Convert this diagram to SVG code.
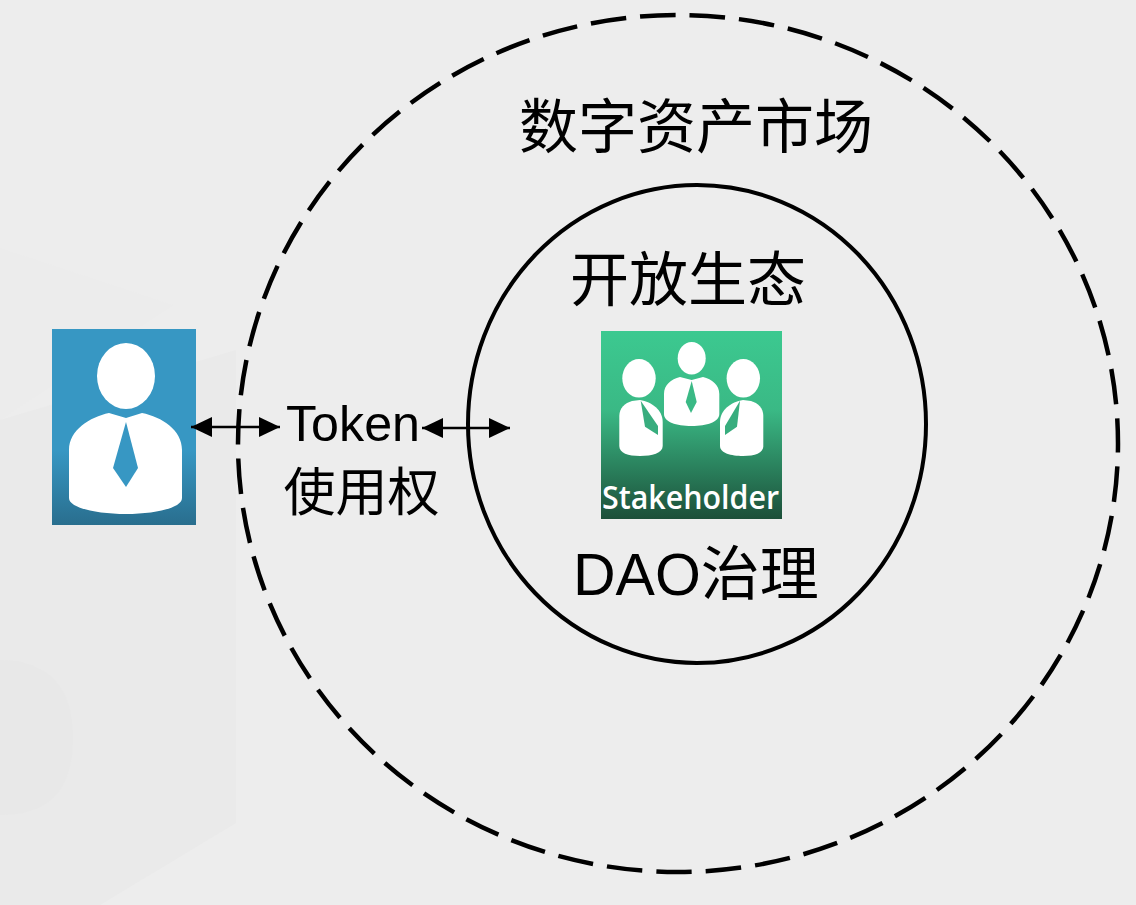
<svg xmlns="http://www.w3.org/2000/svg" width="1136" height="905" viewBox="0 0 1136 905">
<style>
.cjk{font-family:"Liberation Sans","Noto Sans CJK SC",sans-serif;fill:#000;font-size:59px}
.ring{fill:none;stroke:#000}
.conn{stroke:#000;stroke-width:2.5;fill:none;marker-start:url(#head);marker-end:url(#head)}
</style>
<defs>
<marker id="head" viewBox="0 0 21 20" refX="21" refY="10" markerWidth="21" markerHeight="20" markerUnits="userSpaceOnUse" orient="auto-start-reverse"><path d="M0 0L21 10L0 20Z" fill="#000"/></marker>
<linearGradient id="blue" x1="0" y1="0" x2="0" y2="1"><stop offset="0" stop-color="#3797c3"/><stop offset=".62" stop-color="#3797c3"/><stop offset="1" stop-color="#296e8e"/></linearGradient>
<linearGradient id="green" x1="0" y1="0" x2="0" y2="1"><stop offset="0" stop-color="#3cc990"/><stop offset=".42" stop-color="#3ab985"/><stop offset="1" stop-color="#1c4f39"/></linearGradient>
</defs>
<rect id="background" width="1136" height="905" fill="#ededed"/>
<g id="backdrop">
<path d="M0 248L173 305L0 420Z" fill="#ececec"/>
<path d="M0 420L236 350V823L100 905H0Z" fill="#eaeaea"/>
<path d="M0 660C50 660 74 690 73 740C72 790 50 815 0 815Z" fill="#e8e8e8"/>
</g>
<g id="market"><ellipse class="ring" cx="678" cy="443.500" rx="440" ry="428.500" stroke-width="4.500" stroke-dasharray="35.600 14.020" stroke-dashoffset="26.500"/>
<text class="cjk" x="519" y="148">数字资产市场</text></g>
<g id="ecosystem"><ellipse class="ring" cx="697" cy="424" rx="229" ry="239" stroke-width="4"/>
<text class="cjk" x="570" y="301">开放生态</text>
<text class="cjk" x="573" y="595">DAO治理</text></g>
<g id="user">
<rect x="52" y="329" width="144" height="196" fill="url(#blue)"/>
<ellipse cx="126" cy="376" rx="29" ry="33" fill="#fff"/>
<path d="M109 413L126 418L142 413C162 417 182 430 182 450V498C182 508 155 514 126 514C97 514 69 508 69 498V450C69 430 90 417 109 413Z" fill="#fff"/>
<path d="M126 422L138 468L126 487L113 468Z" fill="#3797c3"/>
</g>
<g id="stakeholder">
<rect x="601" y="331" width="181" height="188" fill="url(#green)"/>
<g fill="#fff">
<ellipse cx="691.700" cy="358.300" rx="14" ry="16.300"/>
<path d="M680 377L691.700 380L703 377C712 379 719.300 385 719.300 394V414C719.300 422 707 426 691.700 426C676 426 664 422 664 414V394C664 385 671 379 680 377Z"/>
<ellipse cx="639" cy="378.300" rx="16.700" ry="19.300"/>
<path d="M632 401L640 400C652 402 662.700 410 662.700 422V446C662.700 453 652 456 640 456C628 456 619.300 453 619.300 446V416C619.300 408 625 403 632 401Z"/>
<ellipse cx="743.300" cy="378.300" rx="16.700" ry="19.300"/>
<path d="M751 401L743 400C731 402 720 410 720 422V446C720 453 731 456 743 456C755 456 763.300 453 763.300 446V416C763.300 408 758 403 751 401Z"/>
</g>
<path d="M691.700 381L696.700 402L691 413L685.700 402Z" fill="#3ab985"/>
<path d="M640.700 400.700L658 426V435L645 426.700Z" fill="#38ad7e"/>
<path d="M740 400.700L725 426V435L737 426.700Z" fill="#38ad7e"/>
<text x="602" y="509" font-family="'Open Sans',sans-serif" font-size="32" font-weight="600" fill="#fff" textLength="177" lengthAdjust="spacingAndGlyphs">Stakeholder</text>
</g>
<g id="token">
<text x="286" y="441" font-family="'Liberation Sans',sans-serif" font-size="50" fill="#000" textLength="134" lengthAdjust="spacingAndGlyphs">Token</text>
<text x="283.500" y="511" font-family="'Noto Sans CJK SC',sans-serif" font-size="52" fill="#000">使用权</text>
</g>
<g id="connectors">
<path class="conn" d="M191 427H280"/>
<path class="conn" d="M422 428H510"/>
</g>
</svg>
